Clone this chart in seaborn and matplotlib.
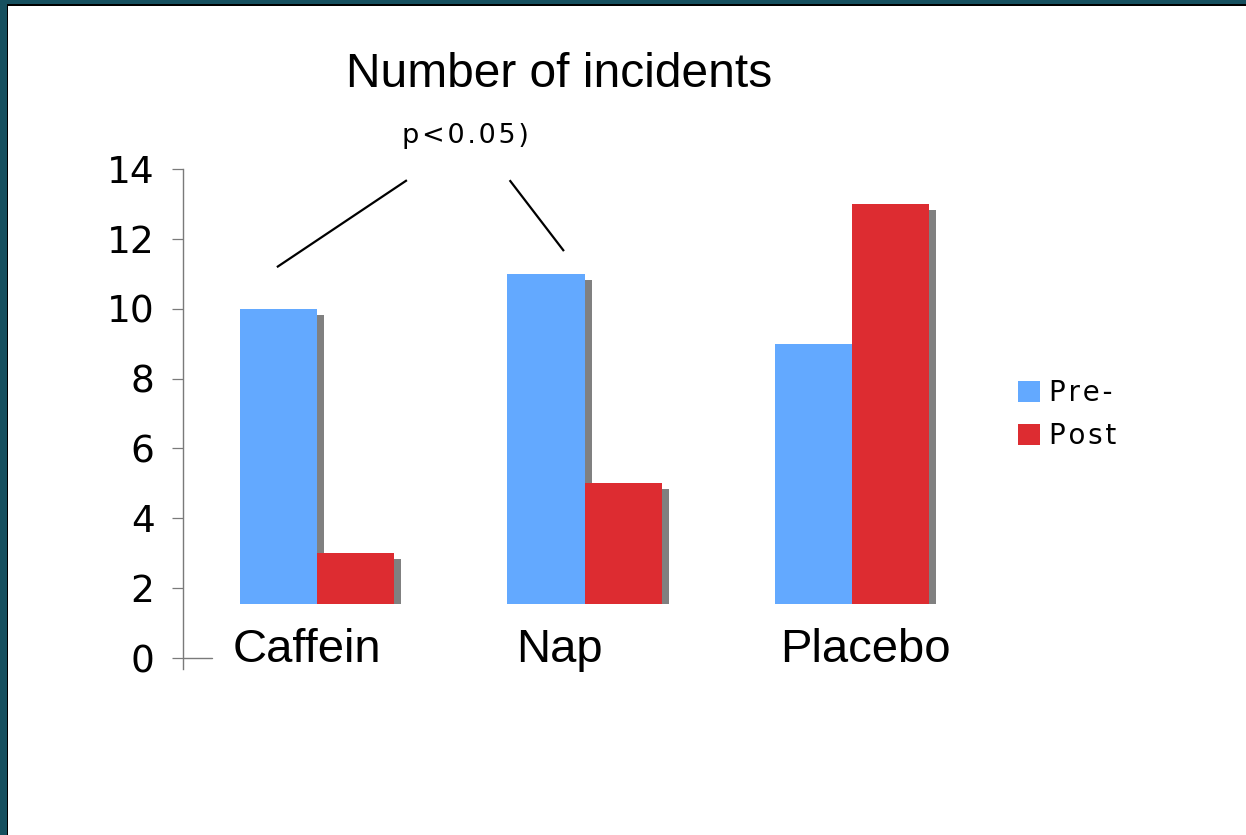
import matplotlib
matplotlib.use("Agg")
import matplotlib.pyplot as plt
from matplotlib.patches import Rectangle, Patch
import numpy as np
import pandas as pd
import seaborn as sns

# ---- data -------------------------------------------------------------
conditions = ["Caffein", "Nap", "Placebo"]
phases = ["Pre-", "Post"]
pre_values = [10, 11, 9]
post_values = [3, 5, 13]
y_ticks = [0, 2, 4, 6, 8, 10, 12, 14]
title_text = "Number of incidents"
note_text = "p<0.05)"

# ---- style ------------------------------------------------------------
sns.set_style("white")
plt.rcParams["font.family"] = ["DejaVu Sans"]
plt.rcParams["text.color"] = "black"

BLUE = "#63A9FF"
RED = "#DD2C31"
SHADOW = "#808080"
AXIS_GREY = "#7a7a7a"
TEAL = "#16505F"

FLOOR = 1.55          # bars rise from a raised floor
BAR_W = 0.576         # total width of one pair of bars
DPI = 100
W_PX, H_PX = 1246, 835
HAIR = "\u200a"

df = pd.DataFrame({
    "condition": conditions * 2,
    "phase": [phases[0]] * 3 + [phases[1]] * 3,
    "value": pre_values + post_values,
})
df["height"] = df["value"] - FLOOR

fig = plt.figure(figsize=(W_PX / DPI, H_PX / DPI), dpi=DPI)
fig.patch.set_facecolor("white")

ax_left, ax_right, ax_top, ax_bottom = 183, 1000, 169, 668.5
ax = fig.add_axes([ax_left / W_PX, 1 - ax_bottom / H_PX,
                   (ax_right - ax_left) / W_PX, (ax_bottom - ax_top) / H_PX])
ax.set_facecolor("white")

# pixel scales used for the drop shadow offsets
px_per_x = 267.5
px_per_y = (658 - 169) / 14.0
dx = 7 / px_per_x
dy = 6 / px_per_y

# drop shadows behind every bar
half = BAR_W / 2
for j, vals in enumerate([pre_values, post_values]):
    for i, v in enumerate(vals):
        x0 = i - half + j * half + dx
        ax.add_patch(Rectangle((x0, FLOOR), half, (v - dy) - FLOOR,
                               facecolor=SHADOW, edgecolor="none", zorder=1))

sns.barplot(data=df, x="condition", y="height", hue="phase",
            order=conditions, hue_order=phases,
            palette=[BLUE, RED], width=BAR_W, dodge=True,
            bottom=FLOOR, linewidth=0, saturation=1,
            legend=False, ax=ax, zorder=2)

ax.set_xlim(-0.501, 2.553)
ax.set_ylim(-0.3, 14)
ax.set_yticks(y_ticks)
ax.set_yticklabels([str(t) for t in y_ticks], fontsize=27)
ax.set_xticks([])
ax.set_xlabel("")
ax.set_ylabel("")

for side in ["top", "right", "bottom"]:
    ax.spines[side].set_visible(False)
ax.spines["left"].set_color(AXIS_GREY)
ax.spines["left"].set_linewidth(1.0)
ax.spines["left"].set_bounds(-0.3, 14)
ax.tick_params(axis="y", direction="out", length=8, width=0.9,
               color=AXIS_GREY, pad=12.5, left=True, labelcolor="black")

# short baseline stub at zero
ax.axhline(0, xmin=0, xmax=29 / (ax_right - ax_left), color=AXIS_GREY,
           linewidth=1.0, zorder=3)

# category labels
label_offsets = [-0.037, -0.093, 0.049]
for i, (name, off) in enumerate(zip(conditions, label_offsets)):
    ax.text(i + off, -0.12, name, ha="center", va="baseline",
            fontsize=34, family="Liberation Sans", color="black")

# connector lines from the note to the first two groups
ax.plot([-0.15, 0.336], [11.19, 13.68], color="black", lw=1.6,
        solid_capstyle="butt", clip_on=False, zorder=4)
ax.plot([0.72, 0.923], [13.68, 11.65], color="black", lw=1.6,
        solid_capstyle="butt", clip_on=False, zorder=4)

# title and note
fig.text(559.5 / W_PX, 1 - 87 / H_PX, title_text, ha="center",
         va="baseline", fontsize=34.5, family="Liberation Sans",
         color="black")
fig.text(465 / W_PX, 1 - 143 / H_PX, HAIR.join(note_text), ha="center",
         va="baseline", fontsize=19.5, color="black")

# legend
handles = [Patch(facecolor=BLUE, edgecolor="none"),
           Patch(facecolor=RED, edgecolor="none")]
labels = [HAIR.join(p) for p in phases]
fig.legend(handles, labels, loc="upper left",
           bbox_to_anchor=(1018 / W_PX, 1 - 379 / H_PX),
           frameon=False, fontsize=20, handlelength=0.8, handleheight=0.8,
           handletextpad=0.3, labelspacing=0.55, borderpad=0,
           borderaxespad=0, labelcolor="black")

# slide frame: teal band with a dark inner line on the left and top
fig.add_artist(Rectangle((0, 0), 6.7 / W_PX, 1, transform=fig.transFigure,
                         facecolor=TEAL, edgecolor="none", zorder=10))
fig.add_artist(Rectangle((6.7 / W_PX, 0), 1.4 / W_PX, 1 - 4.4 / H_PX,
                         transform=fig.transFigure, facecolor="black",
                         edgecolor="none", zorder=10))
fig.add_artist(Rectangle((0, 1 - 4.4 / H_PX), 1, 4.4 / H_PX,
                         transform=fig.transFigure, facecolor=TEAL,
                         edgecolor="none", zorder=10))
fig.add_artist(Rectangle((6.7 / W_PX, 1 - 5.8 / H_PX), 1, 1.4 / H_PX,
                         transform=fig.transFigure, facecolor="black",
                         edgecolor="none", zorder=10))

fig.savefig("out.png", dpi=DPI, facecolor="white")
